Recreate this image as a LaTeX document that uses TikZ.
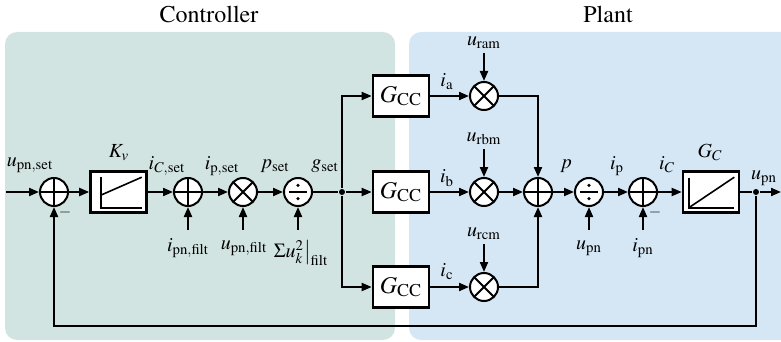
\documentclass[tikz,border=0pt]{standalone}
\usepackage[T1]{fontenc}
\usepackage{mathptmx}
\usepackage{xcolor}
\usetikzlibrary{arrows.meta,positioning,calc}
\definecolor{ctrlbg}{RGB}{210,228,225}
\definecolor{plantbg}{RGB}{213,231,245}

\begin{document}
\begin{tikzpicture}[
  x=0.5pt, y=-0.5pt,
  line width=1pt,
  sumnode/.style={circle, draw, fill=white, minimum size=14pt, inner sep=0pt,
                  path picture={\draw (path picture bounding box.north) -- (path picture bounding box.south)
                                      (path picture bounding box.west) -- (path picture bounding box.east);}},
  mulnode/.style={circle, draw, fill=white, minimum size=14pt, inner sep=0pt,
                  path picture={\draw (path picture bounding box.north west) -- (path picture bounding box.south east)
                                      (path picture bounding box.south west) -- (path picture bounding box.north east);}},
  divnode/.style={circle, draw, fill=white, minimum size=14pt, inner sep=0pt,
                  path picture={\draw ([xshift=-4.6pt]path picture bounding box.center) -- ([xshift=4.6pt]path picture bounding box.center);
                                \fill[black] ([yshift=3.3pt]path picture bounding box.center) circle (0.9pt)
                                      ([yshift=-3.3pt]path picture bounding box.center) circle (0.9pt);}},
  blk/.style={draw, line width=1.3pt, fill=white, minimum width=28pt, minimum height=20.5pt, inner sep=0pt},
  lbl/.style={inner sep=0pt},
  ttl/.style={inner sep=0pt, font=\large},
  dot/.style={circle, fill, inner sep=0pt, minimum size=3pt},
  >={Triangle[length=5pt,width=4pt]}]
  \useasboundingbox (0,0) rectangle (781,342);
  \clip (0,0) rectangle (781,342);
  \def\rA{96}\def\rB{192}\def\rC{287}
  % backgrounds
  \fill[ctrlbg, rounded corners=6pt] (5,32) rectangle (395,340);
  \fill[plantbg, rounded corners=6pt] (409,32) rectangle (800,340);
  \node[ttl] (ctrl) at (209,14) {Controller};
  \node[ttl] (plant) at (608,14) {Plant};
  % controller
  \coordinate (in) at (6,\rB);
  \node[sumnode] (sum1) at (54,\rB) {};
  \node[blk] (kv) at (118.5,\rB) {};
  \draw[line width=0.9pt] ($(kv.north west)+(6pt,-3.5pt)$) |- ($(kv.south east)+(-3pt,3pt)$);
  \draw[line width=0.8pt] ($(kv.west)+(6pt,-1.5pt)$) -- ($(kv.north east)+(-3pt,-3.5pt)$);
  \node[sumnode] (sum2) at (188,\rB) {};
  \node[mulnode] (mulp) at (243,\rB) {};
  \node[divnode] (divg) at (298,\rB) {};
  \node[dot] (brg) at (342,\rB) {};
  \node[sumnode] (sump) at (538,\rB) {};
  % current controllers and modulation
  \node[blk] (gcca) at (401,\rA) {\large$G_{\mathrm{CC}}$};
  \node[blk] (gccb) at (401,\rB) {\large$G_{\mathrm{CC}}$};
  \node[blk] (gccc) at (401,\rC) {\large$G_{\mathrm{CC}}$};
  \node[mulnode] (mula) at (484,\rA) {};
  \node[mulnode] (mulb) at (484,\rB) {};
  \node[mulnode] (mulc) at (484,\rC) {};
  % plant
  \node[divnode] (divp) at (589,\rB) {};
  \node[sumnode] (sumc) at (643,\rB) {};
  \node[blk] (gc) at (711,\rB) {};
  \draw[line width=0.9pt] ($(gc.north west)+(3.5pt,-4pt)$) |- ($(gc.south east)+(-3pt,3pt)$);
  \draw[line width=0.8pt] ($(gc.south west)+(3.5pt,3pt)$) -- ($(gc.north east)+(-3pt,-3.5pt)$);
  \node[dot] (bru) at (756,\rB) {};
  \coordinate (out) at (781,\rB);
  \coordinate (fb) at (54,326);
  % side inputs
  \coordinate (ipnf) at (188,230);
  \coordinate (upnf) at (243,230);
  \coordinate (usqf) at (298,230);
  \coordinate (uram) at (484,53);
  \coordinate (urbm) at (484,149);
  \coordinate (urcm) at (484,244);
  \coordinate (upn) at (589,230);
  \coordinate (ipn) at (643,230);
  % labels
  \node[lbl] (lupnset) at (30,165) {$u_{\mathrm{pn,set}}$};
  \node[lbl] (lkv) at (119,153) {$K_v$};
  \node[lbl] (licset) at (167,166) {$i_{C,\mathrm{set}}$};
  \node[lbl] (lipset) at (222,166) {$i_{\mathrm{p,set}}$};
  \node[lbl] (lpset) at (275,166) {$p_{\mathrm{set}}$};
  \node[lbl] (lgset) at (325,166) {$g_{\mathrm{set}}$};
  \node[lbl] (lipnf) at (188,248) {$i_{\mathrm{pn,filt}}$};
  \node[lbl] (lupnf) at (244,248) {$u_{\mathrm{pn,filt}}$};
  \node[lbl] (lusqf) at (301,253) {$\Sigma u_k^2\big|_{\mathrm{filt}}$};
  \node[lbl] (lia) at (447,82) {$i_{\mathrm{a}}$};
  \node[lbl] (lib) at (447,178) {$i_{\mathrm{b}}$};
  \node[lbl] (lic) at (447,272) {$i_{\mathrm{c}}$};
  \node[lbl] (luram) at (484,43) {$u_{\mathrm{ram}}$};
  \node[lbl] (lurbm) at (484,139) {$u_{\mathrm{rbm}}$};
  \node[lbl] (lurcm) at (484,234) {$u_{\mathrm{rcm}}$};
  \node[lbl] (lp) at (566,166) {$p$};
  \node[lbl] (lip) at (617,166) {$i_{\mathrm{p}}$};
  \node[lbl] (lic2) at (667,165) {$i_C$};
  \node[lbl] (lgc) at (710,152) {$G_C$};
  \node[lbl] (lupn) at (764,178) {$u_{\mathrm{pn}}$};
  \node[lbl] (lupn2) at (589,248) {$u_{\mathrm{pn}}$};
  \node[lbl] (lipn) at (643,248) {$i_{\mathrm{pn}}$};
  \node[lbl] (minus1) at (65,212) {\footnotesize$-$};
  \node[lbl] (minus2) at (655,212) {\footnotesize$-$};
  % connections
  \draw[->] (in) -- (sum1);
  \draw[->] (sum1) -- (kv);
  \draw[->] (kv) -- (sum2);
  \draw[->] (sum2) -- (mulp);
  \draw[->] (mulp) -- (divg);
  \draw (divg) -- (brg);
  \draw[->] (brg) |- (gcca);
  \draw[->] (brg) -- (gccb);
  \draw[->] (brg) |- (gccc);
  \draw[->] (gcca) -- (mula);
  \draw[->] (gccb) -- (mulb);
  \draw[->] (gccc) -- (mulc);
  \draw[->] (mula) -| (sump);
  \draw[->] (mulb) -- (sump);
  \draw[->] (mulc) -| (sump);
  \draw[->] (sump) -- (divp);
  \draw[->] (divp) -- (sumc);
  \draw[->] (sumc) -- (gc);
  \draw (gc) -- (bru);
  \draw[->] (bru) -- (out);
  \draw[->] (bru) |- (fb) -- (sum1);
  \draw[->] (ipnf) -- (sum2);
  \draw[->] (upnf) -- (mulp);
  \draw[->] (usqf) -- (divg);
  \draw[->] (uram) -- (mula);
  \draw[->] (urbm) -- (mulb);
  \draw[->] (urcm) -- (mulc);
  \draw[->] (upn) -- (divp);
  \draw[->] (ipn) -- (sumc);
\end{tikzpicture}
\end{document}
